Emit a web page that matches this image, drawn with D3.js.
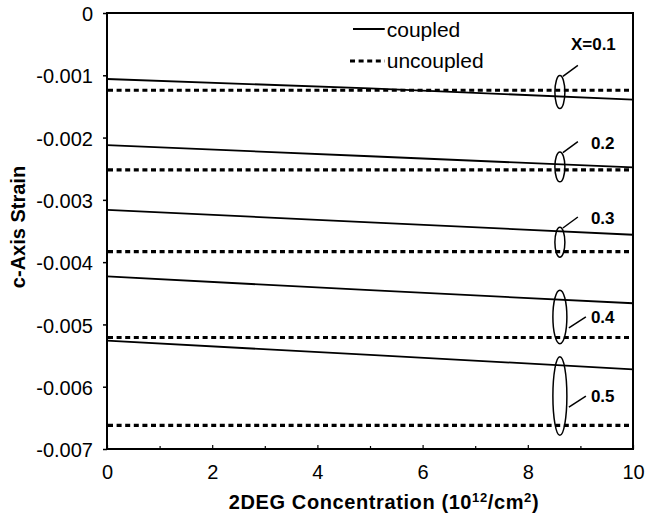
<!DOCTYPE html>
<html><head><meta charset="utf-8">
<script src="https://cdn.jsdelivr.net/npm/d3@7"></script>
<style>
html,body{margin:0;padding:0;background:#fff;}
text{font-family:"Liberation Sans",Arial,Helvetica,sans-serif;fill:#000;}
</style></head>
<body><svg id="chart" width="647" height="518"></svg>
<script>
// ---- data ----
const xValues = [0, 5, 10];
const seriesNames = ["X=0.1", "0.2", "0.3", "0.4", "0.5"];
const coupled = [
  [-0.00106, -0.00121, -0.00139],
  [-0.00212, -0.00230, -0.00248],
  [-0.00316, -0.00336, -0.00356],
  [-0.00423, -0.00445, -0.00466],
  [-0.00526, -0.00549, -0.00572]
];
const uncoupled = [-0.00124, -0.00252, -0.00383, -0.00521, -0.00662];
const xTicks = [0, 2, 4, 6, 8, 10];
const xMinorTicks = [1, 3, 5, 7, 9];
const yTicks = [0, -0.001, -0.002, -0.003, -0.004, -0.005, -0.006, -0.007];
// ellipse groupings (data units): centre y and half-height
const groupCenters = [-0.00127, -0.00247, -0.00368, -0.00488, -0.00615];
const groupHalf = [0.000265, 0.00024, 0.00024, 0.00043, 0.00063];

// ---- layout ----
const svg = d3.select("#chart");
const m = {left:107, top:13, right:633, bottom:449};
const x = d3.scaleLinear().domain([0,10]).range([m.left, m.right]);
const y = d3.scaleLinear().domain([-0.007,0]).range([m.bottom, m.top]);

// lines
const line = d3.line().x((d,i)=>x(xValues[i])).y(d=>y(d));
const g = svg.append("g");
coupled.forEach(s=>{
  g.append("path").attr("d", line(s)).attr("fill","none")
   .attr("stroke","#000").attr("stroke-width",1.8);
});
uncoupled.forEach(v=>{
  g.append("line").attr("x1",x(0)+1).attr("x2",x(10)-1).attr("y1",y(v)).attr("y2",y(v))
   .attr("stroke","#000").attr("stroke-width",3.2).attr("stroke-dasharray","5,3.6");
});

// frame
svg.append("rect").attr("x",m.left).attr("y",m.top)
  .attr("width",m.right-m.left).attr("height",m.bottom-m.top)
  .attr("fill","none").attr("stroke","#000").attr("stroke-width",2);

// y axis
const yAxis = d3.axisLeft(y).tickValues(yTicks).tickSize(4).tickPadding(10)
  .tickFormat(v=> v===0 ? "0" : v.toFixed(3));
const ya = svg.append("g").attr("transform",`translate(${m.left},0)`).call(yAxis);
ya.select(".domain").remove();
ya.selectAll("line").attr("stroke-width",1.5);
ya.selectAll("text").style("font-size","20px").attr("dy","0.38em");

// x axis (ticks inward)
const xAxis = d3.axisBottom(x).tickValues(xTicks).tickSize(-4).tickPadding(16)
  .tickFormat(d3.format("d"));
const xa = svg.append("g").attr("transform",`translate(0,${m.bottom})`).call(xAxis);
xa.select(".domain").remove();
xa.selectAll("line").attr("stroke-width",1.2);
xa.selectAll("text").style("font-size","20px");
const xm = d3.axisBottom(x).tickValues(xMinorTicks).tickSize(-3).tickFormat("");
const xma = svg.append("g").attr("transform",`translate(0,${m.bottom})`).call(xm);
xma.select(".domain").remove();
xma.selectAll("line").attr("stroke-width",1.2);

// axis titles
const xt = svg.append("text").attr("x",384).attr("y",509).attr("text-anchor","middle")
  .style("font-size","20px").style("font-weight","bold").style("letter-spacing","0.6px");
xt.append("tspan").text("2DEG Concentration (10");
xt.append("tspan").text("12").attr("dy","-7").style("font-size","13px");
xt.append("tspan").text("/cm").attr("dy","7");
xt.append("tspan").text("2").attr("dy","-7").style("font-size","13px");
xt.append("tspan").text(")").attr("dy","7");

svg.append("text").attr("transform",`translate(25,227) rotate(-90)`)
  .attr("text-anchor","middle").style("font-size","20px").style("font-weight","bold")
  .text("c-Axis Strain");

// legend
const lx0 = x(4.62), lx1 = x(5.28);
svg.append("line").attr("x1",lx0+3).attr("x2",lx1).attr("y1",29).attr("y2",29)
  .attr("stroke","#000").attr("stroke-width",2);
svg.append("line").attr("x1",lx0).attr("x2",lx1).attr("y1",61).attr("y2",61)
  .attr("stroke","#000").attr("stroke-width",3.2).attr("stroke-dasharray","5,3.6");
svg.append("text").attr("x",lx1+2).attr("y",37).style("font-size","21px").text("coupled");
svg.append("text").attr("x",lx1+2).attr("y",68).style("font-size","21px").text("uncoupled");

// ellipses + labels
const ex = 8.61;
groupCenters.forEach((c,i)=>{
  const cx = x(ex), cy = y(c), ry = y(c - groupHalf[i]) - cy;
  const rx = i < 3 ? 5 : 7;
  svg.append("ellipse").attr("cx",cx).attr("cy",cy).attr("rx",rx).attr("ry",ry)
    .attr("fill","none").attr("stroke","#000").attr("stroke-width",1.5);
  let sx, sy, exx, eyy, ty, tx;
  if (i < 3) {
    sx = cx + 3; sy = cy - ry*0.95; exx = cx + 18; eyy = sy - 11;
    tx = i===0 ? x(8.82) : x(9.2);
    ty = i===0 ? y(-0.00059) : eyy + 7;
  } else {
    sx = cx + 9; sy = cy + 11; exx = cx + 26; eyy = cy;
    tx = x(9.2); ty = cy + 6;
  }
  svg.append("line").attr("x1",sx).attr("y1",sy).attr("x2",exx).attr("y2",eyy)
    .attr("stroke","#000").attr("stroke-width",1.5);
  svg.append("text").attr("x",tx).attr("y",ty).style("font-size","17px")
    .style("font-weight","bold").text(seriesNames[i]);
});
</script></body></html>
